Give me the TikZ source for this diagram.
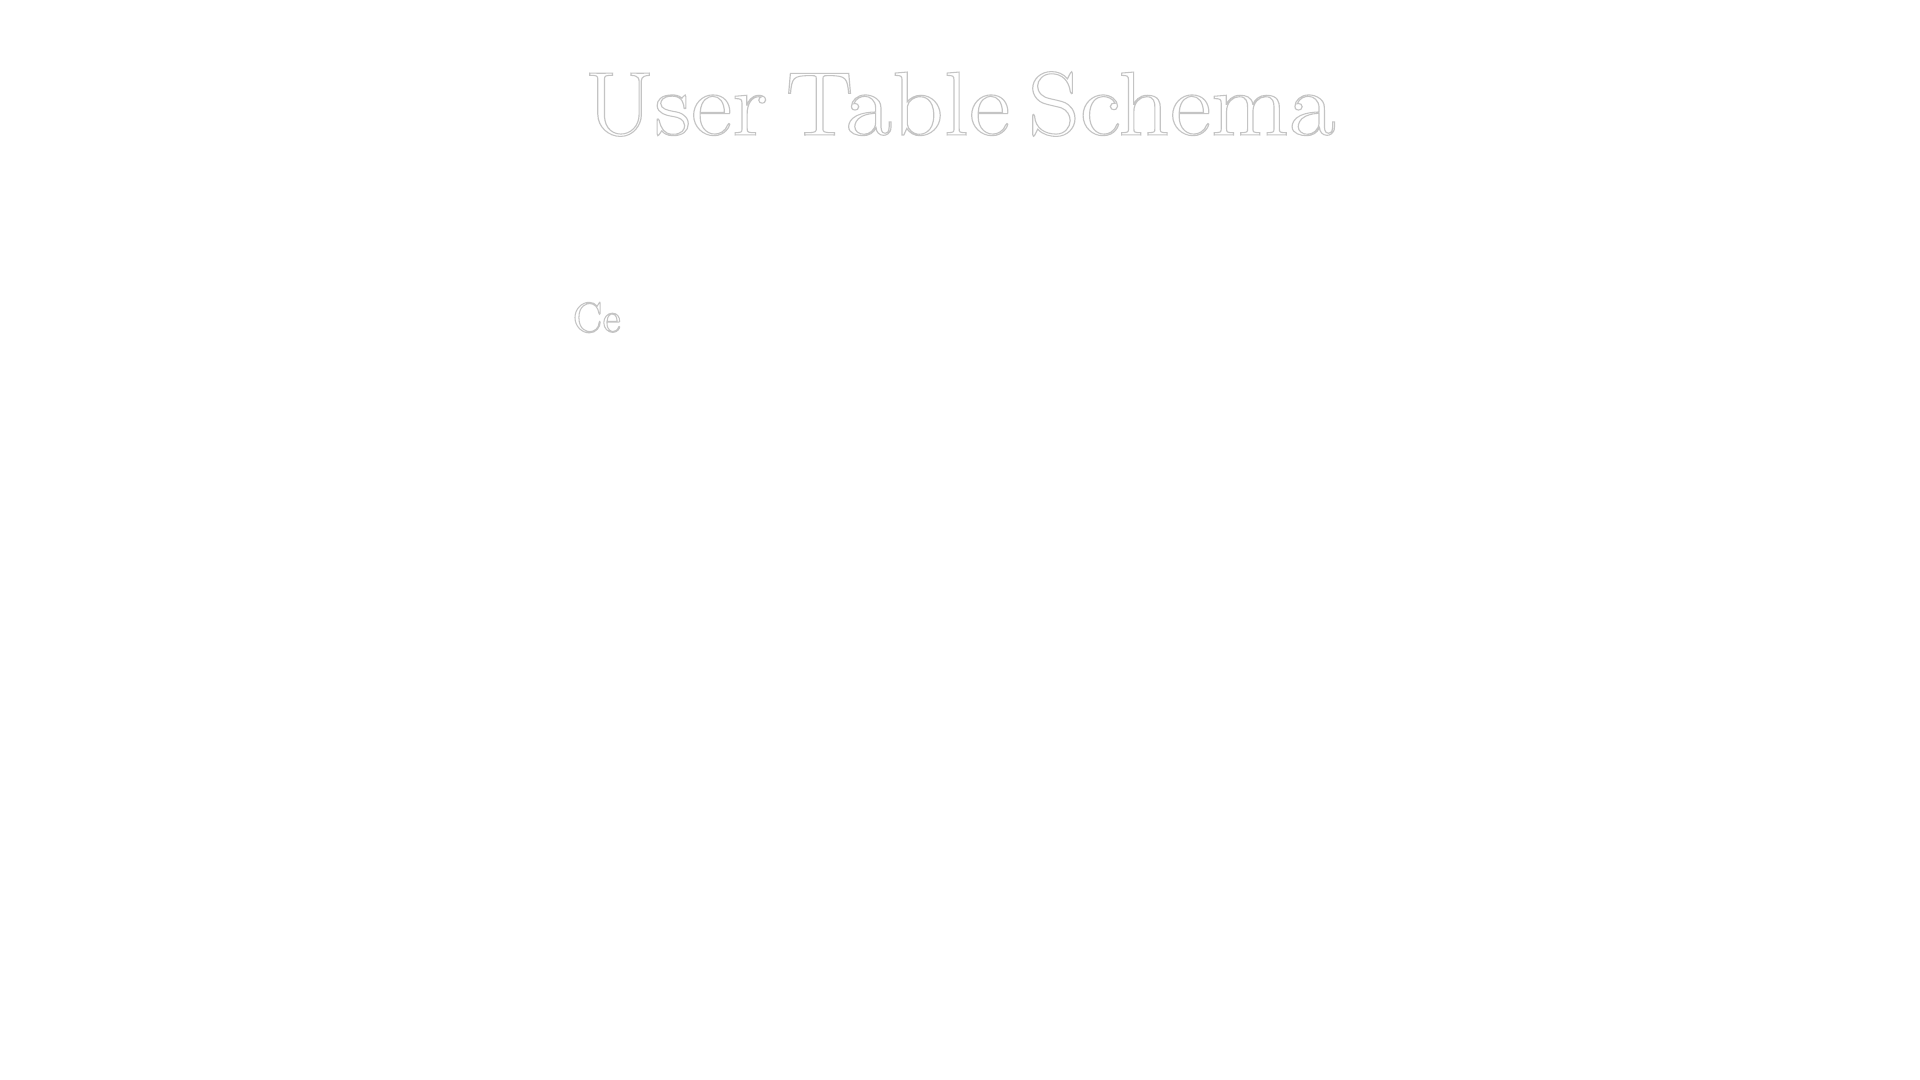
\documentclass[tikz,border=0pt]{standalone}

% hollow letters: white fill, light grey stroke
\newcommand{\outlined}[1]{{\color{white}\special{pdf:literal direct 0.77 G 0.3 w 2 Tr}#1\special{pdf:literal direct 0 Tr}}}

\begin{document}
\begin{tikzpicture}
        \useasboundingbox[fill=white] (0,0) rectangle (19.2,10.8);
        \node[anchor=base,
        inner sep=0pt,
        xscale=1.115,
        transform shape,
        font=\fontsize{25.8}{31}\selectfont,
        ] (title) at (9.6,9.45)  {\spaceskip 0.18em\relax\outlined{User Table Schema}};
        \node[anchor=base west,
        inner sep=0pt,
        font=\fontsize{12}{14}\selectfont,
        ] (cols) at (5.72,7.48)  {\outlined{Ce}};
\end{tikzpicture}
\end{document}
